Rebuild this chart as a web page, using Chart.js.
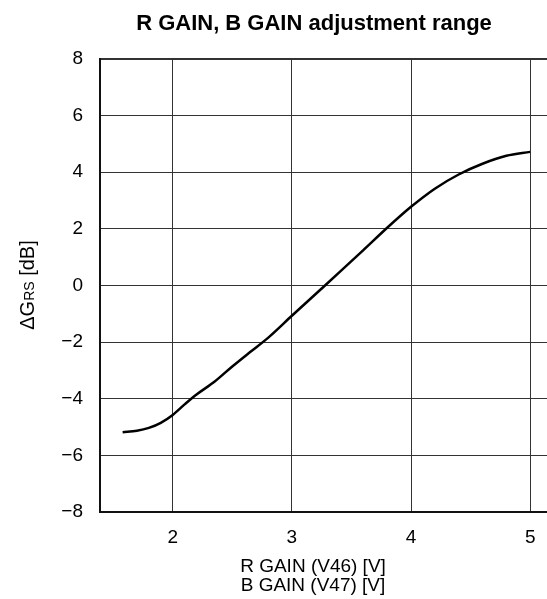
<!DOCTYPE html>
<html>
<head>
<meta charset="utf-8">
<script src="https://cdn.jsdelivr.net/npm/chart.js@4/dist/chart.umd.min.js"></script>
<style>
  html, body { margin: 0; padding: 0; background: #fff; overflow: hidden; }
  #wrap { width: 560px; height: 599px; }
</style>
</head>
<body>
<div id="wrap"><canvas id="gainChart"></canvas></div>
<script>
// values
const gainVolts = [1.58, 1.7, 1.8, 1.9, 2.0, 2.1, 2.2, 2.35, 2.5, 2.65, 2.8, 3.0, 3.2, 3.4, 3.6, 3.8, 4.0, 4.2, 4.4, 4.6, 4.8, 5.0];
const deltaGrs = [-5.18, -5.13, -5.03, -4.85, -4.57, -4.2, -3.85, -3.4, -2.86, -2.35, -1.85, -1.07, -0.3, 0.47, 1.25, 2.04, 2.78, 3.42, 3.92, 4.3, 4.58, 4.72];
const xTicks = [2, 3, 4, 5];
const yTicks = [-8, -6, -4, -2, 0, 2, 4, 6, 8];

const chartTitle = 'R GAIN, B GAIN adjustment range';
const xTitle = ['R GAIN (V46) [V]', 'B GAIN (V47) [V]'];

const FONT = '"Liberation Sans", Arial, sans-serif';

const textPlugin = {
  id: 'textPlugin',
  afterDraw(chart) {
    const c = chart.ctx;
    c.save();
    c.fillStyle = '#000';
    c.textAlign = 'center';
    c.textBaseline = 'middle';

    c.font = 'bold 22px ' + FONT;
    c.fillText(chartTitle, 314, 24);

    c.font = '19px ' + FONT;
    c.fillText(xTitle[0], 313, 567);
    c.fillText(xTitle[1], 313, 586);

    // y title: ΔG + small "RS" + [dB]
    const parts = [['\u0394G', '20px'], ['RS', '14px'], [' [dB]', '20px']];
    let total = 0;
    parts.forEach(p => { c.font = p[1] + ' ' + FONT; total += c.measureText(p[0]).width; });
    c.translate(27, 285);
    c.rotate(-Math.PI / 2);
    c.textAlign = 'left';
    c.textBaseline = 'alphabetic';
    let x = -total / 2;
    parts.forEach(p => {
      c.font = p[1] + ' ' + FONT;
      c.fillText(p[0], x, 7);
      x += c.measureText(p[0]).width;
    });
    c.restore();
  }
};

const ctx = document.getElementById('gainChart').getContext('2d');

const gainChart = new Chart(ctx, {
  type: 'line',
  data: {
    datasets: [{
      data: gainVolts.map((v, i) => ({ x: v, y: deltaGrs[i] })),
      borderColor: '#000',
      borderWidth: 2.5,
      pointRadius: 0,
      fill: false,
      cubicInterpolationMode: 'monotone'
    }]
  },
  options: {
    responsive: true,
    maintainAspectRatio: false,
    animation: false,
    layout: { padding: { top: 59, right: 6, left: 0, bottom: 0 } },
    plugins: {
      legend: { display: false },
      tooltip: { enabled: false }
    },
    scales: {
      x: {
        type: 'linear',
        min: 1.39,
        max: 5.2,
        afterBuildTicks: s => { s.ticks = xTicks.map(v => ({ value: v })); },
        afterFit: s => { s.height = 87; },
        grid: { color: '#333', lineWidth: 1, drawTicks: false },
        border: { color: '#111', width: 2 },
        ticks: { color: '#000', padding: 14, font: { family: FONT, size: 19 } }
      },
      y: {
        min: -8,
        max: 8,
        afterBuildTicks: s => { s.ticks = yTicks.map(v => ({ value: v })); },
        afterFit: s => { s.width = 100; },
        grid: {
          color: '#333',
          lineWidth: c => (c.tick && c.tick.value === 8 ? 2 : 1),
          drawTicks: false
        },
        border: { color: '#111', width: 2 },
        ticks: {
          color: '#000',
          padding: 17,
          font: { family: FONT, size: 19 },
          callback: v => String(v).replace('-', '\u2212')
        }
      }
    }
  },
  plugins: [textPlugin]
});
</script>
</body>
</html>
